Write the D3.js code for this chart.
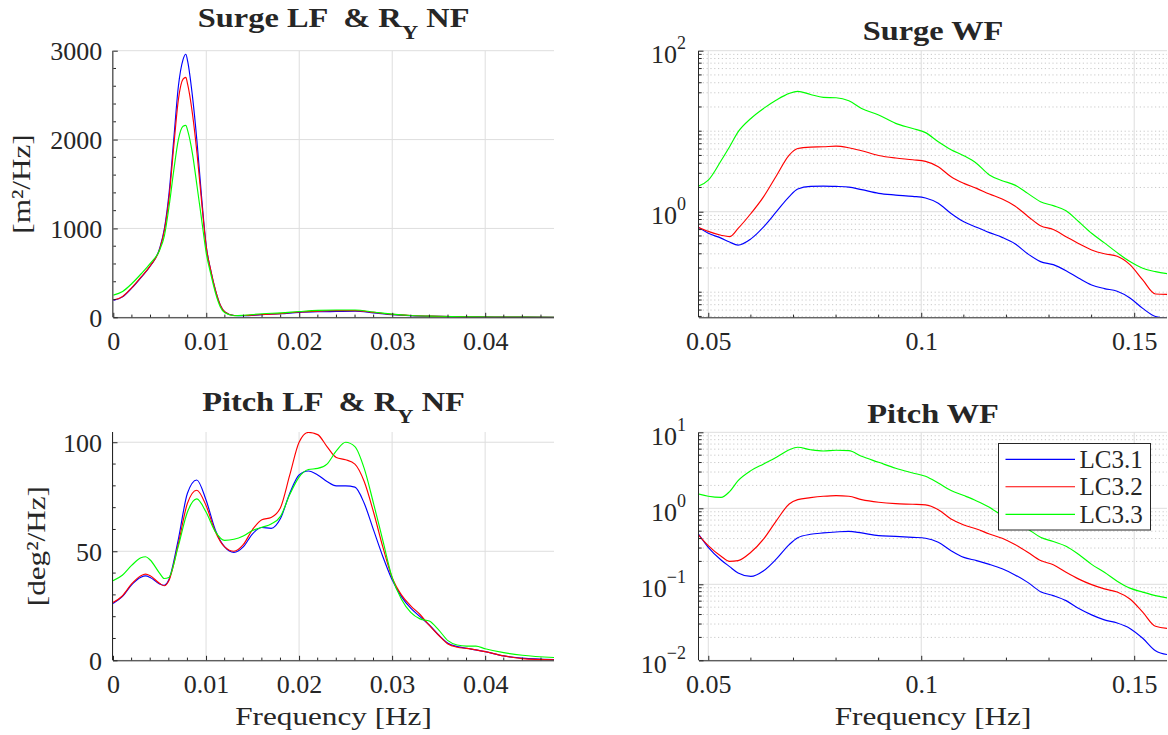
<!DOCTYPE html>
<html><head><meta charset="utf-8">
<script src="https://cdn.jsdelivr.net/npm/d3@7"></script>
<style>
body{margin:0;background:#fff;}
svg text{font-family:"Liberation Serif","Times New Roman",serif;fill:#262626;}
</style></head><body>
<svg id="chart" width="1168" height="735" xmlns="http://www.w3.org/2000/svg"></svg>
<script>
// ---------------- data ----------------
const seriesNames = ["LC3.1", "LC3.2", "LC3.3"];
const seriesColors = ["#0000ff", "#ff0000", "#00ff00"];

const surgeLFFreq = [0, 0.001, 0.002, 0.003, 0.004, 0.005, 0.0055, 0.006, 0.0065, 0.007, 0.0075, 0.0078, 0.008, 0.0085, 0.009, 0.0095, 0.010, 0.0105, 0.011, 0.0115, 0.012, 0.013, 0.014, 0.016, 0.018, 0.020, 0.022, 0.024, 0.026, 0.028, 0.030, 0.032, 0.035, 0.038, 0.041, 0.044, 0.0474];
const surgeLF_LC31 = [190, 230, 330, 450, 580, 780, 1000, 1400, 2000, 2600, 2900, 2960, 2880, 2500, 1980, 1350, 800, 520, 300, 140, 60, 20, 18, 30, 40, 55, 62, 65, 68, 50, 30, 18, 10, 5, 3, 2, 1];
const surgeLF_LC32 = [195, 235, 335, 455, 585, 770, 980, 1350, 1920, 2450, 2680, 2700, 2620, 2300, 1850, 1300, 790, 520, 300, 140, 60, 20, 20, 32, 42, 60, 70, 75, 75, 55, 33, 20, 11, 5, 3, 2, 1];
const surgeLF_LC33 = [250, 290, 380, 490, 610, 760, 920, 1250, 1650, 2000, 2150, 2160, 2100, 1850, 1480, 1100, 720, 480, 270, 120, 50, 18, 22, 40, 50, 65, 78, 82, 82, 60, 35, 20, 12, 6, 3, 2, 1];

const pitchLFFreq = [0, 0.001, 0.002, 0.003, 0.0035, 0.004, 0.005, 0.0055, 0.006, 0.007, 0.008, 0.009, 0.010, 0.011, 0.012, 0.013, 0.014, 0.015, 0.016, 0.017, 0.018, 0.019, 0.020, 0.021, 0.022, 0.023, 0.024, 0.025, 0.026, 0.027, 0.028, 0.029, 0.030, 0.031, 0.032, 0.033, 0.034, 0.035, 0.036, 0.037, 0.038, 0.039, 0.040, 0.042, 0.044, 0.0474];
const pitchLF_LC31 = [26.1, 29.2, 34.6, 38.1, 38.7, 38.0, 35.0, 34.4, 36.9, 55, 76.6, 82.7, 73.5, 59.8, 52, 49.5, 52, 58, 60.9, 60.5, 65, 76.6, 85, 86.8, 85, 82, 80, 80, 79.4, 72, 59.8, 47.6, 36.9, 29.2, 23.9, 20, 16.2, 11.6, 7.8, 6.3, 5.5, 4.8, 4.0, 2.0, 1.0, 0.3];
const pitchLF_LC32 = [26.5, 29.5, 35, 38.8, 39.5, 38.8, 35.3, 34.2, 36.5, 53, 72, 78, 71, 59, 52, 50, 53, 60, 64.5, 65.5, 70, 85, 100, 104.5, 103.5, 98, 93, 92, 90, 82, 68, 52, 38, 30, 25, 21, 16, 11.5, 7.5, 6, 5.5, 4.8, 4, 2, 0.8, 0.2];
const pitchLF_LC33 = [36.5, 39, 43.5, 47, 47.5, 46, 40, 37.5, 38, 52, 68, 74, 68, 59, 55, 55.5, 57, 59.5, 61, 62.5, 66, 76, 84, 87.5, 88, 90, 96, 100, 98, 88, 72, 55, 38, 28, 22, 19, 18, 14, 9, 7, 6.5, 6.5, 5.3, 3.5, 2.3, 1.3];

const wfFreq = [0.0477, 0.050, 0.053, 0.055, 0.057, 0.060, 0.063, 0.066, 0.069, 0.071, 0.074, 0.077, 0.080, 0.083, 0.086, 0.090, 0.094, 0.098, 0.101, 0.104, 0.107, 0.110, 0.113, 0.116, 0.119, 0.122, 0.125, 0.128, 0.131, 0.134, 0.137, 0.140, 0.143, 0.146, 0.149, 0.152, 0.155, 0.1585];
const surgeWF_LC31 = [0.64, 0.54, 0.47, 0.42, 0.385, 0.46, 0.65, 1.0, 1.54, 1.91, 2.06, 2.08, 2.06, 2.02, 1.88, 1.69, 1.61, 1.55, 1.48, 1.27, 0.95, 0.75, 0.64, 0.55, 0.48, 0.40, 0.30, 0.24, 0.22, 0.185, 0.149, 0.123, 0.111, 0.103, 0.085, 0.063, 0.050, 0.047];
const surgeWF_LC32 = [0.64, 0.57, 0.51, 0.49, 0.62, 0.95, 1.54, 2.80, 5.05, 6.1, 6.35, 6.41, 6.53, 6.23, 5.72, 5.0, 4.64, 4.42, 4.22, 3.62, 2.72, 2.25, 1.95, 1.66, 1.44, 1.18, 0.88, 0.67, 0.60, 0.49, 0.40, 0.335, 0.30, 0.28, 0.22, 0.142, 0.095, 0.094];
const surgeWF_LC33 = [2.08, 2.47, 4.3, 6.4, 9.8, 14.4, 19.2, 24.4, 29.5, 31.3, 28.6, 26.3, 26.0, 23.9, 19.2, 15.9, 12.5, 10.8, 9.6, 7.4, 5.9, 4.96, 3.98, 2.86, 2.43, 2.14, 1.69, 1.33, 1.19, 1.03, 0.75, 0.54, 0.41, 0.31, 0.24, 0.198, 0.18, 0.168];
const pitchWF_LC31 = [0.46, 0.307, 0.209, 0.171, 0.141, 0.127, 0.151, 0.216, 0.333, 0.41, 0.455, 0.474, 0.488, 0.498, 0.474, 0.437, 0.428, 0.415, 0.403, 0.357, 0.277, 0.226, 0.205, 0.183, 0.16, 0.133, 0.106, 0.080, 0.071, 0.061, 0.048, 0.0396, 0.034, 0.031, 0.0263, 0.0195, 0.0134, 0.0117];
const pitchWF_LC32 = [0.446, 0.323, 0.234, 0.2, 0.205, 0.264, 0.395, 0.688, 1.14, 1.30, 1.38, 1.44, 1.47, 1.44, 1.30, 1.2, 1.15, 1.13, 1.11, 0.96, 0.724, 0.604, 0.535, 0.46, 0.403, 0.333, 0.264, 0.205, 0.181, 0.144, 0.117, 0.099, 0.087, 0.079, 0.064, 0.043, 0.028, 0.026];
const pitchWF_LC33 = [1.54, 1.44, 1.39, 1.66, 2.31, 3.13, 3.83, 4.69, 5.9, 6.35, 5.9, 5.67, 5.8, 5.74, 4.83, 4.03, 3.36, 2.92, 2.64, 2.15, 1.71, 1.47, 1.25, 1.03, 0.80, 0.654, 0.535, 0.416, 0.365, 0.316, 0.246, 0.183, 0.144, 0.11, 0.089, 0.079, 0.071, 0.065];

const lfXTicks = [0, 0.01, 0.02, 0.03, 0.04];
const lfXTickLabels = ["0", "0.01", "0.02", "0.03", "0.04"];
const wfXTicks = [0.05, 0.1, 0.15];
const wfXTickLabels = ["0.05", "0.1", "0.15"];
const surgeLFYTicks = [0, 1000, 2000, 3000];
const pitchLFYTicks = [0, 50, 100];
const surgeWFYExponents = [0, 2];
const pitchWFYExponents = [-2, -1, 0, 1];
const xLabelText = "Frequency [Hz]";

// ---------------- drawing ----------------
const svg = d3.select("#chart");
const AX = "#262626";
const FONT = 26;
const STRETCH = 1.2; // wide serif look of the original labels

function panel(p) {
  const g = svg.append("g");
  const x = d3.scaleLinear().domain(p.xDomain).range([p.left, p.right]);
  const y = (p.log ? d3.scaleLog() : d3.scaleLinear()).domain(p.yDomain).range([p.bottom, p.top]);
  const yMajor = p.log ? p.yExp.map(e => Math.pow(10, e)) : p.yTicks;

  let yMinor = p.yMinor || [];
  if (p.log) {
    yMinor = [];
    const e0 = Math.floor(Math.log10(p.yDomain[0])), e1 = Math.ceil(Math.log10(p.yDomain[1]));
    for (let e = e0; e <= e1; e++) for (let m = 1; m <= 9; m++) {
      const v = m * Math.pow(10, e);
      if (v > p.yDomain[0] * 1.0001 && v < p.yDomain[1] * 0.9999 && !yMajor.some(t => Math.abs(t - v) / v < 1e-6)) yMinor.push(v);
    }
    g.append("g").selectAll("line").data(yMinor).join("line")
      .attr("x1", p.left).attr("x2", p.right)
      .attr("y1", d => y(d)).attr("y2", d => y(d))
      .attr("stroke", "#bdbdbd").attr("stroke-width", 0.8).attr("stroke-dasharray", "1.2,2.6");
  }
  g.append("g").selectAll("line").data(p.xTicks).join("line")
    .attr("x1", d => x(d)).attr("x2", d => x(d)).attr("y1", p.top).attr("y2", p.bottom)
    .attr("stroke", "#dedede").attr("stroke-width", 1);
  g.append("g").selectAll("line").data(yMajor).join("line")
    .attr("x1", p.left).attr("x2", p.right).attr("y1", d => y(d)).attr("y2", d => y(d))
    .attr("stroke", "#dedede").attr("stroke-width", 1);

  const cid = "clip" + p.id;
  svg.append("clipPath").attr("id", cid).append("rect")
    .attr("x", p.left).attr("y", p.top).attr("width", p.right - p.left).attr("height", p.bottom - p.top);
  const line = d3.line().x(d => x(d[0])).y(d => y(d[1])).curve(d3.curveMonotoneX);
  const lg = g.append("g").attr("clip-path", `url(#${cid})`);
  p.series.forEach((s, i) => {
    lg.append("path").attr("d", line(p.freq.map((f, k) => [f, s[k]])))
      .attr("fill", "none").attr("stroke", seriesColors[i]).attr("stroke-width", 1.15);
  });

  const xAxis = d3.axisBottom(x).tickValues(p.xTicks).tickSizeInner(-4.5).tickSizeOuter(0)
    .tickFormat((d, i) => p.xLabels[i]);
  const xg = g.append("g").attr("transform", `translate(0,${p.bottom})`).call(xAxis);
  xg.select(".domain").attr("stroke", AX).attr("d", `M${p.left},0.5H${p.right}`);
  xg.selectAll(".tick line").attr("stroke", AX);
  xg.selectAll(".tick text").attr("y", 33).attr("dy", 0).attr("font-size", FONT).attr("fill", AX)
    .attr("font-family", "Liberation Serif");
  g.append("g").selectAll("line").data(p.xMinor).join("line")
    .attr("x1", d => x(d)).attr("x2", d => x(d)).attr("y1", p.bottom).attr("y2", p.bottom - 2.7)
    .attr("stroke", AX).attr("stroke-width", 1);

  const yAxis = (p.log ? d3.axisLeft(y).tickValues(yMajor).tickFormat("") : d3.axisLeft(y).tickValues(yMajor).tickFormat(d3.format("d")))
    .tickSizeInner(-4.5).tickSizeOuter(0);
  const yg = g.append("g").attr("transform", `translate(${p.left},0)`).call(yAxis);
  yg.select(".domain").attr("stroke", AX).attr("d", `M-0.5,${p.top}V${p.bottom}`);
  yg.selectAll(".tick line").attr("stroke", AX);
  if (!p.log) {
    yg.selectAll(".tick text").attr("x", -11).attr("dy", 0).attr("y", 9).attr("font-size", FONT)
      .attr("fill", AX).attr("font-family", "Liberation Serif").attr("text-anchor", "end");
  } else {
    p.yExp.forEach(e => {
      const t = g.append("text").attr("x", p.left - 13).attr("y", y(Math.pow(10, e)) + 12.5)
        .attr("text-anchor", "end").attr("font-size", FONT);
      t.append("tspan").text("10");
      t.append("tspan").attr("dy", -14).attr("font-size", 18).text(e < 0 ? "\u2212" + (-e) : String(e));
    });
  }
  g.append("g").selectAll("line").data(yMinor).join("line")
    .attr("x1", p.left).attr("x2", p.left + 2.7).attr("y1", d => y(d)).attr("y2", d => y(d))
    .attr("stroke", AX).attr("stroke-width", 1);

  const cx = (p.left + p.right) / 2;
  const tt = g.append("text").attr("transform", `translate(${cx},${p.titleY}) scale(${STRETCH},1)`)
    .attr("text-anchor", "middle")
    .attr("font-weight", "bold").attr("font-size", 27).attr("xml:space", "preserve")
    .style("white-space", "pre");
  tt.append("tspan").text(p.title[0]);
  if (p.title.length > 1) {
    tt.append("tspan").attr("dy", 12).attr("font-size", 19).text(p.title[1]);
    tt.append("tspan").attr("dy", -12).text(p.title[2]);
  }
  if (p.yLabel) {
    g.append("text").attr("transform", `translate(${p.yLabelX},${(p.top + p.bottom) / 2}) rotate(-90) scale(${STRETCH},1)`)
      .attr("text-anchor", "middle").attr("font-size", FONT).text(p.yLabel);
  }
  if (p.xLabel) {
    g.append("text").attr("transform", `translate(${cx},725) scale(${STRETCH},1)`)
      .attr("text-anchor", "middle").attr("font-size", FONT).text(p.xLabel);
  }
  return { x, y };
}

const lfXMinor = d3.range(0.002, 0.0474, 0.002).filter(v => Math.abs(v * 100 - Math.round(v * 100)) > 1e-6);
const wfXMinor = [0.06, 0.07, 0.08, 0.09, 0.11, 0.12, 0.13, 0.14];

panel({ id: "a", left: 113.3, right: 554, top: 50.7, bottom: 317.3, xDomain: [0, 0.0474], yDomain: [0, 3000],
  freq: surgeLFFreq, series: [surgeLF_LC31, surgeLF_LC32, surgeLF_LC33],
  xTicks: lfXTicks, xLabels: lfXTickLabels, xMinor: lfXMinor, yTicks: surgeLFYTicks,
  yMinor: d3.range(200, 3000, 200).filter(v => v % 1000 !== 0),
  title: ["Surge LF  & R", "Y", " NF"], titleY: 27.3, yLabel: "[m\u00b2/Hz]", yLabelX: 30 });

panel({ id: "b", left: 699, right: 1167, top: 50.7, bottom: 317.3, xDomain: [0.04782, 0.1577], yDomain: [0.0488, 100], log: true,
  freq: wfFreq, series: [surgeWF_LC31, surgeWF_LC32, surgeWF_LC33],
  xTicks: wfXTicks, xLabels: wfXTickLabels, xMinor: wfXMinor, yExp: surgeWFYExponents,
  title: ["Surge WF"], titleY: 40 });

panel({ id: "c", left: 113, right: 554, top: 432, bottom: 660.3, xDomain: [0, 0.0474], yDomain: [0, 104.7],
  freq: pitchLFFreq, series: [pitchLF_LC31, pitchLF_LC32, pitchLF_LC33],
  xTicks: lfXTicks, xLabels: lfXTickLabels, xMinor: lfXMinor, yTicks: pitchLFYTicks,
  yMinor: d3.range(10, 104, 10).filter(v => v % 50 !== 0),
  title: ["Pitch LF  & R", "Y", " NF"], titleY: 410.7, yLabel: "[deg\u00b2/Hz]", yLabelX: 44.5, xLabel: xLabelText });

panel({ id: "d", left: 699, right: 1167, top: 432.3, bottom: 660.3, xDomain: [0.04782, 0.1577], yDomain: [0.01, 10], log: true,
  freq: wfFreq, series: [pitchWF_LC31, pitchWF_LC32, pitchWF_LC33],
  xTicks: wfXTicks, xLabels: wfXTickLabels, xMinor: wfXMinor, yExp: pitchWFYExponents,
  title: ["Pitch WF"], titleY: 422.7, xLabel: xLabelText });

const leg = svg.append("g");
leg.append("rect").attr("x", 998.5).attr("y", 443.5).attr("width", 152).attr("height", 86.5)
  .attr("fill", "#fff").attr("stroke", AX).attr("stroke-width", 1);
const rowY = [459.3, 486.7, 514.3];
seriesNames.forEach((n, i) => {
  leg.append("line").attr("x1", 1005.5).attr("x2", 1075).attr("y1", rowY[i]).attr("y2", rowY[i])
    .attr("stroke", seriesColors[i]).attr("stroke-width", 1.15);
  leg.append("text").attr("x", 1079.6).attr("y", rowY[i] + 8.5).attr("font-size", 25).text(n);
});
</script>
</body></html>
